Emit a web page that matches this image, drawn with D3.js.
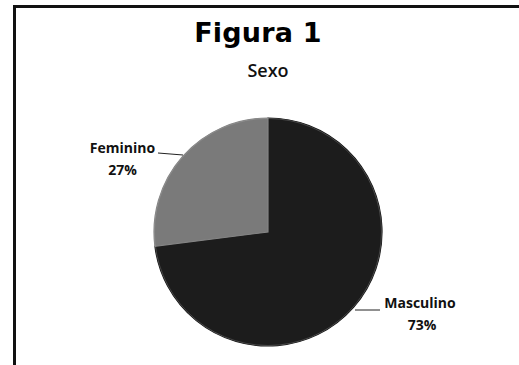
<!DOCTYPE html>
<html>
<head>
<meta charset="utf-8">
<script src="https://cdn.jsdelivr.net/npm/d3@7"></script>
<style>
  html, body { margin: 0; padding: 0; background: #fff; }
  svg { display: block; }
</style>
</head>
<body>
<svg id="chart" width="519" height="365"></svg>
<script>
// Survey respondents by sex
const categories = ["Masculino", "Feminino"];
const values = [73, 27];
const labels = ["73%", "27%"];
const title = "Figura 1";
const subtitle = "Sexo";

const svg = d3.select("#chart");
const W = 519, H = 365;

// frame (left and top rules only)
svg.append("line").attr("x1", 14.5).attr("x2", 14.5).attr("y1", 6).attr("y2", H)
  .attr("stroke", "#111").attr("stroke-width", 3);
svg.append("line").attr("x1", 13).attr("x2", W).attr("y1", 6.5).attr("y2", 6.5)
  .attr("stroke", "#111").attr("stroke-width", 3);

svg.append("text").attr("x", 258).attr("y", 42).attr("text-anchor", "middle")
  .attr("font-family", "DejaVu Sans, Verdana, sans-serif").attr("font-weight", "bold")
  .attr("font-size", 27).attr("letter-spacing", 0.2).attr("fill", "#000").text(title);

svg.append("text").attr("x", 268).attr("y", 77).attr("text-anchor", "middle")
  .attr("font-family", "Open Sans, sans-serif").attr("font-weight", 600)
  .attr("font-size", 18).attr("fill", "#111").text(subtitle);

const cx = 268, cy = 232, r = 114;
const defs = svg.append("defs");
const g2 = defs.append("radialGradient").attr("id", "gFem")
  .attr("cx", cx).attr("cy", cy).attr("r", r).attr("gradientUnits", "userSpaceOnUse");
g2.append("stop").attr("offset", "0%").attr("stop-color", "#5c5c5c");
g2.append("stop").attr("offset", "85%").attr("stop-color", "#686868");
g2.append("stop").attr("offset", "100%").attr("stop-color", "#7a7a7a");

const fills = ["#1c1c1c", "url(#gFem)"];

const pie = d3.pie().sort(null).value(d => d)(values);
const arc = d3.arc().innerRadius(0).outerRadius(r);

const pg = svg.append("g").attr("transform", `translate(${cx},${cy})`);
pg.selectAll("path.slice").data(pie).join("path")
  .attr("class", "slice")
  .attr("d", arc)
  .attr("fill", (d, i) => fills[i])
  .attr("stroke", (d, i) => i === 0 ? "#141414" : "#858585")
  .attr("stroke-width", 1.2);

// soft rim
pg.append("circle").attr("r", r - 0.5).attr("fill", "none")
  .attr("stroke", "#9a9a9a").attr("stroke-opacity", 0.35).attr("stroke-width", 1);

// labels with leader lines
const labelFont = "Open Sans, sans-serif";
const labelPos = [
  { x: 420, y: 308, lx1: 355, ly1: 310, lx2: 380, ly2: 310 },
  { x: 122.5, y: 153, lx1: 158, ly1: 153, lx2: 183, ly2: 155 }
];
pie.forEach((d, i) => {
  const p = labelPos[i];
  svg.append("line").attr("x1", p.lx1).attr("y1", p.ly1).attr("x2", p.lx2).attr("y2", p.ly2)
    .attr("stroke", "#222").attr("stroke-width", 1);
  const t = svg.append("text").attr("text-anchor", "middle")
    .attr("font-family", labelFont).attr("font-weight", 700)
    .attr("font-size", 14).attr("fill", "#111");
  t.append("tspan").attr("x", p.x).attr("y", p.y).text(categories[i]);
  t.append("tspan").attr("x", p.x + (i === 0 ? 2 : 0)).attr("y", p.y + 22).text(labels[i]);
});
</script>
</body>
</html>
